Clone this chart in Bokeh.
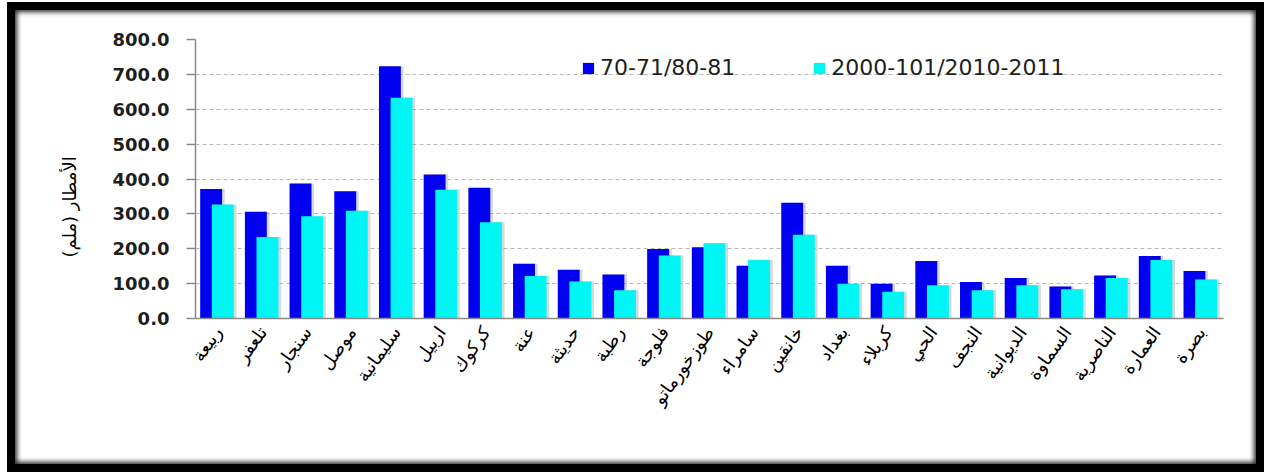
import math
from bokeh.plotting import figure
from bokeh.models import (ColumnDataSource, Range1d, FactorRange, Legend, LegendItem,
                          Title, PrintfTickFormatter, FixedTicker)
from bokeh.transform import dodge
from bokeh.embed import file_html
from bokeh.resources import INLINE

# ---- data ----
stations = ["ربيعة", "تلعفر", "سنجار", "موصل", "سليمانية", "اربيل", "كركوك", "عنة",
            "حديثة", "رطبة", "فلوجة", "طوزخورماتو", "سامراء", "خانقين", "بغداد",
            "كربلاء", "الحي", "النجف", "الديوانية", "السماوة", "الناصرية", "العمارة", "بصرة"]
period_1 = [371, 306, 387, 365, 723, 413, 375, 157, 140, 126, 199, 204, 151, 332, 151,
            100, 165, 105, 116, 92, 123, 179, 136]
period_2 = [327, 234, 293, 309, 633, 369, 276, 122, 106, 81, 181, 216, 168, 240, 100,
            77, 95, 81, 95, 84, 116, 168, 112]
series_names = ["70-71/80-81", "2000-101/2010-2011"]
y_ticks = [0, 100, 200, 300, 400, 500, 600, 700, 800]
y_title = "الأمطار (ملم)"

src = ColumnDataSource(dict(st=stations, a=period_1, b=period_2))

W, H = 1241, 454
p = figure(x_range=FactorRange(factors=stations, range_padding=0),
           y_range=Range1d(0, 800), width=W, height=H,
           output_backend="svg", toolbar_location=None,
           min_border_left=180, min_border_right=49,
           min_border_top=29, min_border_bottom=162)

p.border_fill_alpha = 0
p.background_fill_color = "white"
p.outline_line_color = None
p.styles = {"margin-left": "7px", "margin-top": "2px",
            "box-sizing": "content-box",
            "border": "8px solid black",
            "background-color": "white",
            "box-shadow": "inset 0 0 5px 2px rgba(0,0,0,0.85)"}

off1, off2, bw = -0.15, 0.11, 0.49
p.vbar(x=dodge("st", off1 + 0.06, range=p.x_range), top="a", width=bw, source=src,
       fill_color="#7f7f7f", fill_alpha=0.3, line_color=None)
r1 = p.vbar(x=dodge("st", off1, range=p.x_range), top="a", width=bw, source=src,
            fill_color="#0000F0", line_color=None)
p.vbar(x=dodge("st", off2 + 0.06, range=p.x_range), top="b", width=bw, source=src,
       fill_color="#7f7f7f", fill_alpha=0.3, line_color=None)
r2 = p.vbar(x=dodge("st", off2, range=p.x_range), top="b", width=bw, source=src,
            fill_color="#00F5F5", line_color=None)

# grid
p.xgrid.grid_line_color = None
p.ygrid.grid_line_color = "#b8b8b8"
p.ygrid.grid_line_dash = "4 3"
p.ygrid.grid_line_width = 1

# y axis
p.yaxis.ticker = FixedTicker(ticks=y_ticks)
p.yaxis.formatter = PrintfTickFormatter(format="%.1f")
p.yaxis.axis_line_color = "#8a8a8a"
p.yaxis.axis_line_width = 1.5
p.yaxis.major_tick_line_color = "#8a8a8a"
p.yaxis.major_tick_line_width = 1.5
p.yaxis.major_tick_out = 9
p.yaxis.major_tick_in = 0
p.yaxis.minor_tick_line_color = None
p.yaxis.major_label_text_font = "DejaVu Sans"
p.yaxis.major_label_text_font_style = "bold"
p.yaxis.major_label_text_font_size = "18px"
p.yaxis.major_label_text_color = "#1e1e1e"
p.yaxis.major_label_standoff = 17

# x axis
p.xaxis.axis_line_color = "#8a8a8a"
p.xaxis.axis_line_width = 1.5
p.xaxis.major_tick_line_color = None
p.xaxis.minor_tick_line_color = None
p.xaxis.major_label_orientation = 0.95
p.xaxis.major_label_text_font = "DejaVu Sans"
p.xaxis.major_label_text_font_size = "18px"
p.xaxis.major_label_text_color = "black"
p.xaxis.major_label_standoff = 4

# y title (placed as a side title so it can be shifted along the axis)
p.add_layout(Title(text=y_title, align="left", offset=61, standoff=60,
                   text_font="DejaVu Sans", text_font_size="18px",
                   text_font_style="normal", text_color="black"), "left")

legend = Legend(items=[LegendItem(label=series_names[0], renderers=[r1]),
                       LegendItem(label=series_names[1], renderers=[r2])],
                orientation="horizontal", location=(386, 238))
legend.label_text_font = "DejaVu Sans"
legend.label_text_font_size = "22px"
legend.label_text_color = "#1e1e1e"
legend.background_fill_alpha = 0
legend.border_line_alpha = 0
legend.padding = 0
legend.margin = 0
legend.spacing = 77
legend.glyph_width = 14
legend.glyph_height = 14
legend.label_standoff = 5
legend.label_height = 24
p.add_layout(legend)

open("out.html", "w").write(file_html(p, INLINE))
